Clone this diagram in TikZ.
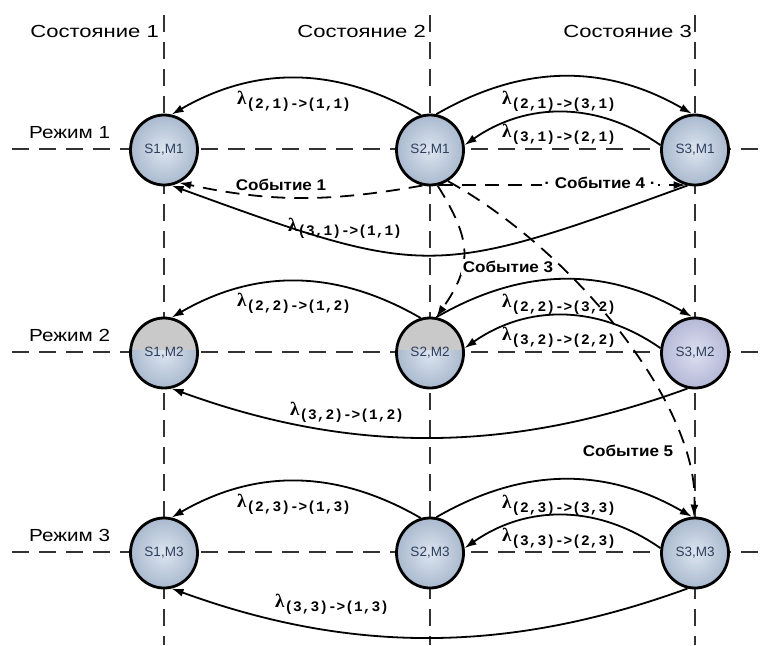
\documentclass[tikz,border=0pt]{standalone}
\usepackage{fontspec}
\setmainfont{Liberation Sans}
\newfontfamily\hdrfont[FakeStretch=1.26]{Liberation Sans}
\newfontfamily\rowfont[FakeStretch=1.18]{Liberation Sans}
\newfontfamily\evfont[FakeStretch=1.1]{Liberation Sans}
\newfontfamily\lamfont{Liberation Serif}
\newfontfamily\subfont{Liberation Mono}
\usetikzlibrary{shapes.geometric,arrows.meta}
\definecolor{nin}{HTML}{DDE5F0}
\definecolor{nout}{HTML}{A9B9CE}
\definecolor{lavin}{HTML}{DDDFF0}
\definecolor{lavout}{HTML}{B5B8D6}
\definecolor{ntext}{HTML}{2E3F5E}
\definecolor{gridc}{HTML}{333333}
\newcommand\lam[1]{{\lamfont\bfseries\fontsize{19}{19}\selectfont λ}{\subfont\bfseries\fontsize{14.5}{14.5}\selectfont\raisebox{-4pt}{#1}}}
\tikzset{
  gridline/.style={draw=gridc, line width=1.2pt, dash pattern=on 17pt off 10pt},
  st/.style={ellipse, draw=black, line width=2.8pt, minimum width=67pt, minimum height=70pt,
    inner sep=0pt, inner color=nin, outer color=nout, text=ntext, font=\fontsize{13.5}{13.5}\selectfont},
  lav/.style={inner color=lavin, outer color=lavout},
  halfgrey/.style={path picture={\fill[gray!42] (path picture bounding box.north west) rectangle ([yshift=3pt]path picture bounding box.east);}},
  arc/.style={draw=black, line width=1.8pt, -{Latex[length=12pt,width=8pt]}},
  ev/.style={draw=black, line width=1.8pt, dash pattern=on 14pt off 9pt, -{Latex[length=12pt,width=8pt]}},
  hdr/.style={font=\hdrfont\fontsize{17.5}{17.5}\selectfont, inner sep=0pt},
  rowlab/.style={font=\rowfont\fontsize{17.5}{17.5}\selectfont, inner sep=0pt},
  evlab/.style={font=\evfont\bfseries\fontsize{15.5}{15.5}\selectfont, fill=white, inner sep=2pt},
  lab/.style={inner sep=0pt},
}
\begin{document}
\begin{tikzpicture}[x=1pt,y=1pt]
\useasboundingbox (0,0) rectangle (767,-645);
\fill[white] (0,0) rectangle (767,-645);
% grid
\foreach \gx in {164,430,695} \draw[gridline] (\gx,-15) -- (\gx,-645);
\foreach \gy in {149,352,552} \draw[gridline] (12,-\gy) -- (767,-\gy);
% headers
\node[hdr, anchor=base east] (h1) at (159,-37) {Состояние 1};
\node[hdr, anchor=base east] (h2) at (426,-37) {Состояние 2};
\node[hdr, anchor=base east] (h3) at (692,-37) {Состояние 3};
\node[rowlab, anchor=base west] (r1) at (29,-138) {Режим 1};
\node[rowlab, anchor=base west] (r2) at (29,-341) {Режим 2};
\node[rowlab, anchor=base west] (r3) at (29,-541) {Режим 3};
% nodes
\node[st] (s11) at (164,-150) {S1,M1};
\node[st] (s21) at (430,-150) {S2,M1};
\node[st] (s31) at (695,-150) {S3,M1};
\node[st, halfgrey] (s12) at (164,-353) {S1,M2};
\node[st, halfgrey] (s22) at (430,-353) {S2,M2};
\node[st, lav] (s32) at (695,-353) {S3,M2};
\node[st] (s13) at (164,-553) {S1,M3};
\node[st] (s23) at (430,-553) {S2,M3};
\node[st] (s33) at (695,-553) {S3,M3};
% row arcs
\foreach \r/\lo in {1/1.35,2/0.95,3/0.95}{
  \draw[arc] (s2\r.105) to[out=150,in=30] (s1\r.78);
  \draw[arc] (s2\r.80) to[out=30,in=150] (s3\r.95);
  \draw[arc] (s3\r.172) to[out=145,in=35] (s2\r.8);
  \draw[arc] (s3\r.258) to[out=200,in=-20,looseness=\lo] (s1\r.282);
}
% lambda labels
\node[lab, anchor=base west] (l1a) at (237,-104) {\lam{(2,1)->(1,1)}};
\node[lab, anchor=base west] (l1b) at (502,-104) {\lam{(2,1)->(3,1)}};
\node[lab, anchor=base west] (l1c) at (502,-137) {\lam{(3,1)->(2,1)}};
\node[lab, anchor=base west] (l1d) at (288,-231) {\lam{(3,1)->(1,1)}};
\node[lab, anchor=base west] (l2a) at (237,-306) {\lam{(2,2)->(1,2)}};
\node[lab, anchor=base west] (l2b) at (502,-307) {\lam{(2,2)->(3,2)}};
\node[lab, anchor=base west] (l2c) at (502,-340) {\lam{(3,2)->(2,2)}};
\node[lab, anchor=base west] (l2d) at (290,-415) {\lam{(3,2)->(1,2)}};
\node[lab, anchor=base west] (l3a) at (237,-507) {\lam{(2,3)->(1,3)}};
\node[lab, anchor=base west] (l3b) at (502,-508) {\lam{(2,3)->(3,3)}};
\node[lab, anchor=base west] (l3c) at (502,-541) {\lam{(3,3)->(2,3)}};
\node[lab, anchor=base west] (l3d) at (275,-607) {\lam{(3,3)->(1,3)}};
% events
\draw[ev] (s21.258) to[out=190,in=-12] (s11.295);
\draw[ev] (s21.285) -- (s31.255);
\draw[ev] (s21.282) to[out=-58,in=55,looseness=1.25] (s22.80);
\draw[ev] (s21.300) .. controls (580,-255) and (700,-410) .. (s33.92);
\node[evlab, fill=none] (e1) at (281,-185) {Событие 1};
\node[evlab] (e4) at (600,-183) {· Событие 4 ·};
\node[evlab] (e3) at (508,-267) {Событие 3};
\node[evlab, fill=none] (e5) at (628,-451) {Событие 5};
\end{tikzpicture}
\end{document}
